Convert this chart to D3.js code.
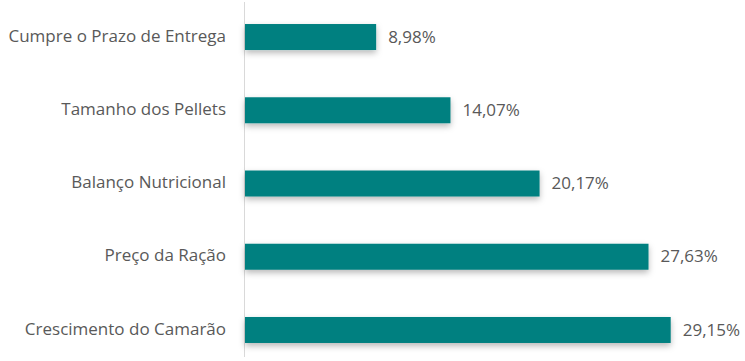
<!DOCTYPE html>
<html>
<head>
<meta charset="utf-8">
<script src="https://cdn.jsdelivr.net/npm/d3@7"></script>
<style>
  body { margin: 0; background: #fff; }
  text { font-family: "Open Sans", sans-serif; fill: #595959; }
</style>
</head>
<body>
<div class="canvas"></div>
<script>
const categories = [
  "Cumpre o Prazo de Entrega",
  "Tamanho dos Pellets",
  "Balanço Nutricional",
  "Preço da Ração",
  "Crescimento do Camarão",
];
const values = [8.98, 14.07, 20.17, 27.63, 29.15];

const width = 745;
const height = 361;

const svg = d3
  .select(".canvas")
  .append("svg")
  .attr("width", width)
  .attr("height", height);

const defs = svg.append("defs");
const shadow = defs.append("filter").attr("id", "shadow")
  .attr("x", "-5%").attr("y", "-30%").attr("width", "110%").attr("height", "190%");
shadow.append("feDropShadow")
  .attr("dx", 0).attr("dy", 3).attr("stdDeviation", 3)
  .attr("flood-color", "#000").attr("flood-opacity", 0.28);

const x = d3.scaleLinear().domain([0, 30]).range([245, 245 + 30 * 14.604]);
const y = d3
  .scaleBand()
  .domain(categories)
  .range([0.4, 366.6])
  .paddingInner(0.645)
  .paddingOuter(0.3225);

// vertical axis line
svg.append("line")
  .attr("x1", 244.5).attr("x2", 244.5)
  .attr("y1", 2).attr("y2", 357)
  .attr("stroke", "#d9d9d9").attr("stroke-width", 1);

const chart = svg.append("g");

chart.selectAll("rect")
  .data(values)
  .enter()
  .append("rect")
  .attr("x", x(0))
  .attr("y", (d, i) => y(categories[i]))
  .attr("width", (d) => x(d) - x(0))
  .attr("height", y.bandwidth())
  .attr("fill", "#008080")
  .attr("filter", "url(#shadow)");

chart.selectAll("text.value")
  .data(values)
  .enter()
  .append("text")
  .attr("class", "value")
  .attr("x", (d) => x(d) + 12)
  .attr("y", (d, i) => y(categories[i]) + y.bandwidth() / 2 + 1)
  .attr("dominant-baseline", "middle")
  .attr("font-size", 17)
  .text((d) => d.toFixed(2).replace(".", ",") + "%");

chart.selectAll("text.cat")
  .data(categories)
  .enter()
  .append("text")
  .attr("class", "cat")
  .attr("x", 226)
  .attr("y", (d) => y(d) + y.bandwidth() / 2)
  .attr("dominant-baseline", "middle")
  .attr("text-anchor", "end")
  .attr("font-size", 17)
  .text((d) => d);
</script>
</body>
</html>
